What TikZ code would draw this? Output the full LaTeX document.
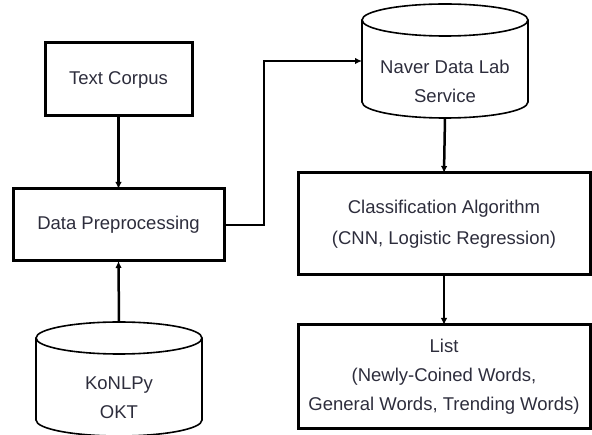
\documentclass[tikz,border=0pt]{standalone}
\usepackage{fontspec}
\setmainfont{Liberation Sans}
\usetikzlibrary{arrows.meta}

\definecolor{inkgray}{RGB}{45,45,60}

% cylinder outline around a named node
\newcommand{\dbcyl}[1]{%
  \draw[dbline] ([yshift=-16pt]#1.north west) -- ([yshift=16pt]#1.south west)
    arc[start angle=180, end angle=360, x radius=83pt, y radius=16pt]
    -- ([yshift=-16pt]#1.north east);
  \draw[dbline] ([yshift=-16pt]#1.north) ellipse[x radius=83pt, y radius=16pt];}

\begin{document}
\begin{tikzpicture}[x=1pt, y=1pt,
    box/.style={draw, line width=3pt, inner sep=0pt, outer sep=0pt,
      align=center, text=inkgray, font=\fontsize{18.5}{29}\selectfont},
    dbnode/.style={inner sep=0pt, outer sep=0pt, minimum width=166pt, minimum height=114pt},
    dbline/.style={line width=1.6pt},
    dbtext/.style={align=center, text=inkgray, font=\fontsize{18.5}{29}\selectfont},
    flow/.style={line width=2.5pt, -{Latex[length=7pt, width=6.5pt]}}]
  \useasboundingbox (0,0) rectangle (592,434);

  % Left column
  \node[box, minimum width=147pt, minimum height=73pt] (corpus) at (118.5,354.5) {Text Corpus};
  \node[box, minimum width=211pt, minimum height=72pt] (prep) at (118.5,209) {Data Preprocessing};
  \node[dbnode] (okt) at (119,55) {};
  \dbcyl{okt}
  \node[dbtext] (okttext) at ([yshift=-19pt]okt.center) {KoNLPy\\OKT};

  % Right column
  \node[dbnode] (naver) at (445,373) {};
  \dbcyl{naver}
  \node[dbtext] (navertext) at ([yshift=-20pt]naver.center) {Naver Data Lab\\Service};
  \node[box, minimum width=292pt, minimum height=102pt, font=\fontsize{18.5}{31}\selectfont]
    (algo) at (444,210) {Classification Algorithm\\(CNN, Logistic Regression)};
  \node[box, minimum width=292pt, minimum height=103pt] (list) at (444,57.5)
    {List\\(Newly-Coined Words,\\General Words, Trending Words)};

  % Arrows
  \draw[flow] (corpus) -- (prep);
  \draw[flow] (okt.north) -- (prep.south);
  \draw[flow] (prep.east) -- ++(40,0) |- (naver.west);
  \draw[flow] (naver.south) -- (algo.north);
  \draw[flow] (algo) -- (list);
\end{tikzpicture}
\end{document}
